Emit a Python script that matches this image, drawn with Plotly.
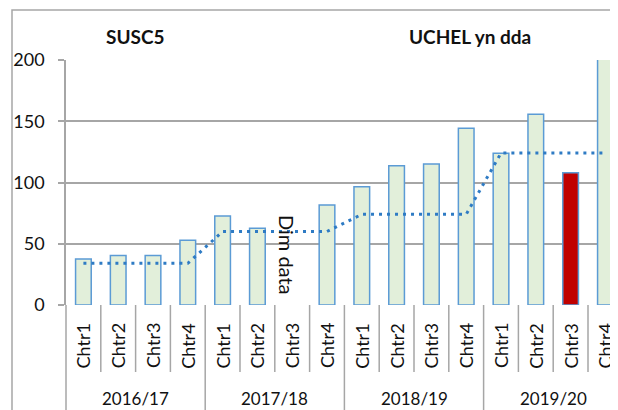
import plotly.graph_objects as go

years = ["2016/17", "2017/18", "2018/19", "2019/20"]
quarters = ["Chtr1", "Chtr2", "Chtr3", "Chtr4"]
values = [37.5, 40.5, 40.5, 52.8,
          72.6, 62.6, None, 81.6,
          96.6, 113.7, 115.1, 144.2,
          123.8, 155.7, 108.0, 210.0]
trend = [34, 34, 34, 34,
         60, 60, 60, 60,
         74, 74, 74, 74,
         124, 124, 124, 124]
highlight_index = 14
missing_label = "Dim data"
title_left = "SUSC5"
title_right = "UCHEL yn dda"
y_ticks = [0, 50, 100, 150, 200]

FONT = "Lato"
GRID = "#A6A6A6"
BLUE = "#5B9BD5"
TXT = "#111111"

n = len(values)
xs = list(range(n))
qlabels = [quarters[i % 4] for i in xs]
colors = ["#C00000" if i == highlight_index else "#E2EFDA" for i in xs]

# page body has an 8px margin; the figure is sized to fill the rest of the window
OFF = 8
W, H = 618 - OFF, 410 - OFF
PLOT_LEFT, PLOT_TOP, PLOT_BOTTOM = 66, 60, 305  # in window pixels
L = PLOT_LEFT - OFF
T = PLOT_TOP - OFF
B = H - (PLOT_BOTTOM - OFF)
plot_w = W - L
plot_h = H - T - B
cat_w = 34.8
xmin = -0.5
xmax = xmin + plot_w / cat_w


def py(win_y):
    return (PLOT_BOTTOM - win_y) / plot_h


def px(win_x):
    return (win_x - PLOT_LEFT) / plot_w


def xpaper(x):
    return (x - xmin) / (xmax - xmin)


fig = go.Figure()
fig.add_trace(go.Bar(
    x=xs, y=values, width=0.45,
    marker=dict(color=colors, line=dict(color=BLUE, width=1.5)),
    showlegend=False, hoverinfo="skip",
))
fig.add_trace(go.Scatter(
    x=xs, y=trend, mode="lines",
    line=dict(color="#2E7BC4", width=3, dash="3px,5px"),
    showlegend=False, hoverinfo="skip",
))

shapes = []
shapes.append(dict(type="rect", xref="paper", yref="paper",
                   x0=px(12), x1=px(640), y0=py(440), y1=py(10),
                   line=dict(color=GRID, width=1.5), fillcolor="rgba(0,0,0,0)",
                   layer="below"))
for i in range(n + 1):
    xb = i - 0.5
    y0 = py(440) if i % 4 == 0 else py(372)
    shapes.append(dict(type="line", xref="paper", yref="paper",
                       x0=xpaper(xb), x1=xpaper(xb), y0=y0, y1=0,
                       line=dict(color=GRID, width=1.5)))

annotations = []
for i in xs:
    annotations.append(dict(x=i, y=py(346), xref="x", yref="paper",
                            text=qlabels[i], textangle=-90, showarrow=False,
                            xanchor="center", yanchor="middle",
                            font=dict(family=FONT, size=18, color=TXT)))
for g, yl in enumerate(years):
    annotations.append(dict(x=g * 4 + 1.5, y=py(398), xref="x", yref="paper",
                            text=yl, showarrow=False, xanchor="center", yanchor="middle",
                            font=dict(family=FONT, size=17, color=TXT)))
missing_idx = values.index(None)
annotations.append(dict(x=missing_idx - 0.15, y=py(255), xref="x", yref="paper",
                        text=missing_label, textangle=90, showarrow=False,
                        xanchor="center", yanchor="middle",
                        font=dict(family=FONT, size=20, color=TXT)))
annotations.append(dict(x=px(135), y=py(37), xref="paper", yref="paper",
                        text="<b>" + title_left + "</b>", showarrow=False,
                        xanchor="center", yanchor="middle",
                        font=dict(family=FONT, size=19, color=TXT)))
annotations.append(dict(x=px(470), y=py(37), xref="paper", yref="paper",
                        text="<b>" + title_right + "</b>", showarrow=False,
                        xanchor="center", yanchor="middle",
                        font=dict(family=FONT, size=19, color=TXT)))

fig.update_layout(
    width=W, height=H,
    margin=dict(l=L, r=0, t=T, b=B, pad=0),
    paper_bgcolor="white", plot_bgcolor="white",
    shapes=shapes, annotations=annotations,
    xaxis=dict(range=[xmin, xmax], showticklabels=False, showgrid=False,
               zeroline=False, showline=False, ticks=""),
    yaxis=dict(range=[0, 200], tickvals=y_ticks, showgrid=True, gridcolor=GRID,
               gridwidth=1.5, zeroline=False, showline=True, linecolor=GRID,
               linewidth=1.5, ticks="outside", ticklen=6, tickcolor=GRID,
               tickwidth=1.5, ticklabelstandoff=10,
               tickfont=dict(family=FONT, size=18, color=TXT)),
)

fig.write_html("out.html")
